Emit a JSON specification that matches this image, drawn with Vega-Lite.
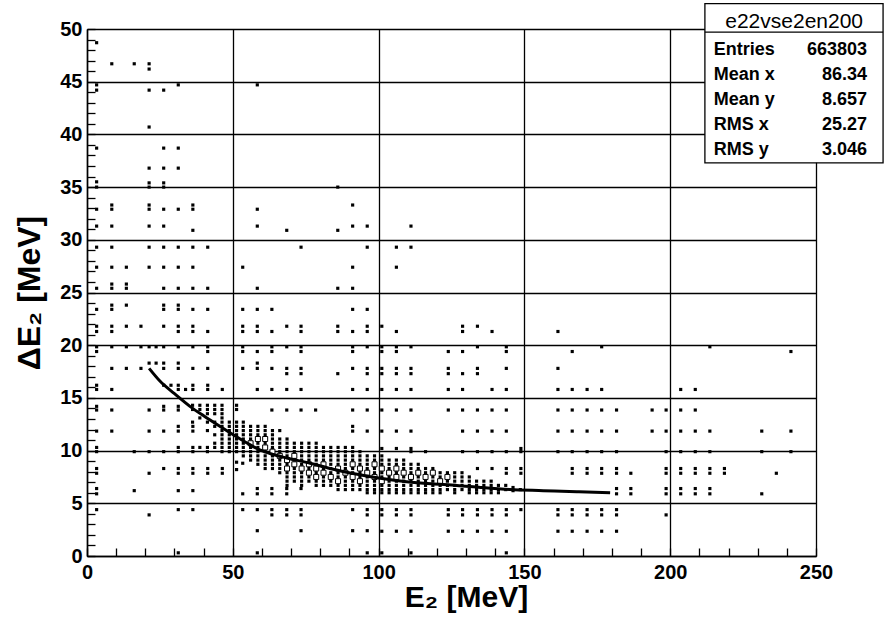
{
"$schema": "https://vega.github.io/schema/vega-lite/v6.json",
"width": 729, "height": 527,
"autosize": {"type": "none"},
"padding": {"left": 87, "top": 29, "right": 68, "bottom": 61},
"background": "white",
"config": {"view": {"stroke": null}, "font": "Liberation Sans"},
"datasets": {
"pts": [
{"x":3.3,"y":48.7},{"x":3.3,"y":44.7},{"x":3.3,"y":44.2},{"x":3.3,"y":38.7},{"x":3.3,"y":35.5},{"x":3.3,"y":35.0},{"x":3.3,"y":32.9},{"x":3.3,"y":31.3},{"x":3.3,"y":29.3},{"x":3.3,"y":27.4},{"x":3.3,"y":25.4},{"x":3.3,"y":23.4},{"x":3.3,"y":21.8},{"x":3.3,"y":21.3},{"x":3.3,"y":19.85},{"x":3.3,"y":19.4},{"x":3.3,"y":16.2},{"x":3.3,"y":15.8},{"x":3.3,"y":14.2},{"x":3.3,"y":13.85},{"x":3.3,"y":11.85},{"x":3.3,"y":10.3},{"x":3.3,"y":9.9},{"x":3.3,"y":8.3},{"x":3.3,"y":7.85},{"x":3.3,"y":6.4},{"x":3.3,"y":5.9},{"x":3.3,"y":4.4},
{"x":8.5,"y":46.7},{"x":8.5,"y":33.3},{"x":8.5,"y":32.9},{"x":8.5,"y":31.3},{"x":8.5,"y":29.3},{"x":8.5,"y":27.4},{"x":8.5,"y":25.8},{"x":8.5,"y":25.4},{"x":8.5,"y":23.8},{"x":8.5,"y":23.4},{"x":8.5,"y":21.8},{"x":8.5,"y":21.3},{"x":8.5,"y":19.85},{"x":8.5,"y":17.8},{"x":8.5,"y":15.8},{"x":8.5,"y":13.85},{"x":8.5,"y":11.85},
{"x":13.5,"y":27.4},{"x":13.5,"y":25.8},{"x":13.5,"y":25.4},{"x":13.5,"y":23.8},{"x":13.5,"y":21.8},{"x":13.5,"y":19.85},{"x":13.5,"y":17.8},
{"x":16.2,"y":46.7},{"x":16.2,"y":9.9},{"x":16.2,"y":6.2},
{"x":18.5,"y":21.8},{"x":18.5,"y":19.85},{"x":18.5,"y":17.8},
{"x":21.3,"y":46.7},{"x":21.3,"y":46.2},{"x":21.3,"y":44.2},{"x":21.3,"y":40.7},{"x":21.3,"y":36.8},{"x":21.3,"y":35.4},{"x":21.3,"y":35.0},{"x":21.3,"y":33.3},{"x":21.3,"y":32.9},{"x":21.3,"y":31.3},{"x":21.3,"y":29.3},{"x":21.3,"y":27.4},{"x":21.3,"y":19.85},{"x":21.3,"y":18.3},{"x":21.3,"y":13.85},{"x":21.3,"y":11.85},{"x":21.3,"y":9.9},{"x":21.3,"y":7.85},{"x":21.3,"y":3.9},
{"x":23.7,"y":19.85},{"x":23.7,"y":18.3},
{"x":26.3,"y":44.2},{"x":26.3,"y":38.7},{"x":26.3,"y":36.8},{"x":26.3,"y":35.4},{"x":26.3,"y":35.0},{"x":26.3,"y":32.9},{"x":26.3,"y":31.3},{"x":26.3,"y":29.3},{"x":26.3,"y":27.4},{"x":26.3,"y":25.4},{"x":26.3,"y":23.8},{"x":26.3,"y":23.4},{"x":26.3,"y":21.8},{"x":26.3,"y":19.85},{"x":26.3,"y":18.3},{"x":26.3,"y":17.8},{"x":26.3,"y":16.2},{"x":26.3,"y":14.2},{"x":26.3,"y":13.85},{"x":26.3,"y":11.85},{"x":26.3,"y":9.9},{"x":26.3,"y":8.3},
{"x":28.8,"y":16.2},
{"x":31.3,"y":44.7},{"x":31.3,"y":38.7},{"x":31.3,"y":36.8},{"x":31.3,"y":32.9},{"x":31.3,"y":29.3},{"x":31.3,"y":27.4},{"x":31.3,"y":25.4},{"x":31.3,"y":23.8},{"x":31.3,"y":23.4},{"x":31.3,"y":21.8},{"x":31.3,"y":21.3},{"x":31.3,"y":19.85},{"x":31.3,"y":18.3},{"x":31.3,"y":17.8},{"x":31.3,"y":16.2},{"x":31.3,"y":15.8},{"x":31.3,"y":14.2},{"x":31.3,"y":13.85},{"x":31.3,"y":12.3},{"x":31.3,"y":11.85},{"x":31.3,"y":10.3},{"x":31.3,"y":9.9},{"x":31.3,"y":8.3},{"x":31.3,"y":7.85},{"x":31.3,"y":6.2},{"x":31.3,"y":4.4},{"x":31.3,"y":0.3},
{"x":33.8,"y":15.8},
{"x":36.3,"y":33.3},{"x":36.3,"y":32.9},{"x":36.3,"y":30.9},{"x":36.3,"y":29.3},{"x":36.3,"y":27.4},{"x":36.3,"y":25.4},{"x":36.3,"y":23.4},{"x":36.3,"y":21.8},{"x":36.3,"y":21.3},{"x":36.3,"y":19.85},{"x":36.3,"y":17.8},{"x":36.3,"y":16.2},{"x":36.3,"y":15.8},{"x":36.3,"y":12.3},{"x":36.3,"y":11.85},{"x":36.3,"y":10.3},{"x":36.3,"y":9.9},{"x":36.3,"y":8.3},{"x":36.3,"y":7.85},{"x":36.3,"y":6.2},{"x":36.3,"y":4.4},
{"x":41.4,"y":29.3},{"x":41.4,"y":25.4},{"x":41.4,"y":23.4},{"x":41.4,"y":21.3},{"x":41.4,"y":19.85},{"x":41.4,"y":19.4},{"x":41.4,"y":17.8},{"x":41.4,"y":16.2},{"x":41.4,"y":15.8},{"x":41.4,"y":8.3},{"x":41.4,"y":7.85},
{"x":46.4,"y":15.8},{"x":46.4,"y":8.3},{"x":46.4,"y":7.85},
{"x":53.4,"y":27.4},{"x":53.4,"y":23.4},{"x":53.4,"y":21.8},{"x":53.4,"y":21.3},{"x":53.4,"y":19.85},{"x":53.4,"y":19.4},{"x":53.4,"y":17.8},{"x":53.4,"y":8.8},{"x":53.4,"y":5.9},{"x":53.4,"y":4.4},
{"x":58.4,"y":44.7},{"x":58.4,"y":32.9},{"x":58.4,"y":31.3},{"x":58.4,"y":25.4},{"x":58.4,"y":23.4},{"x":58.4,"y":21.8},{"x":58.4,"y":21.3},{"x":58.4,"y":19.4},{"x":58.4,"y":18.3},{"x":58.4,"y":17.8},{"x":58.4,"y":15.8},{"x":58.4,"y":6.4},{"x":58.4,"y":5.9},{"x":58.4,"y":4.4},{"x":58.4,"y":2.4},{"x":58.4,"y":0.3},
{"x":63.4,"y":23.4},{"x":63.4,"y":21.3},{"x":63.4,"y":19.85},{"x":63.4,"y":19.4},{"x":63.4,"y":17.8},{"x":63.4,"y":15.8},{"x":63.4,"y":13.85},{"x":63.4,"y":6.4},{"x":63.4,"y":5.9},{"x":63.4,"y":4.4},{"x":63.4,"y":3.9},
{"x":68.5,"y":30.9},{"x":68.5,"y":21.8},{"x":68.5,"y":19.85},{"x":68.5,"y":17.8},{"x":68.5,"y":17.3},{"x":68.5,"y":15.8},{"x":68.5,"y":13.85},{"x":68.5,"y":6.4},{"x":68.5,"y":5.9},{"x":68.5,"y":4.4},{"x":68.5,"y":3.9},
{"x":73.4,"y":29.3},{"x":73.4,"y":21.8},{"x":73.4,"y":21.3},{"x":73.4,"y":19.85},{"x":73.4,"y":19.4},{"x":73.4,"y":17.8},{"x":73.4,"y":17.3},{"x":73.4,"y":15.8},{"x":73.4,"y":13.85},{"x":73.4,"y":6.4},{"x":73.4,"y":4.4},{"x":73.4,"y":3.9},{"x":73.4,"y":2.4},
{"x":78.4,"y":13.85},
{"x":86.0,"y":35.0},{"x":86.0,"y":30.9},{"x":86.0,"y":25.4},{"x":86.0,"y":21.8},{"x":86.0,"y":21.3},{"x":86.0,"y":17.3},
{"x":91.1,"y":33.3},{"x":91.1,"y":31.3},{"x":91.1,"y":27.4},{"x":91.1,"y":25.4},{"x":91.1,"y":23.4},{"x":91.1,"y":21.3},{"x":91.1,"y":19.85},{"x":91.1,"y":19.4},{"x":91.1,"y":17.8},{"x":91.1,"y":15.8},{"x":91.1,"y":13.85},{"x":91.1,"y":12.3},{"x":91.1,"y":11.85},{"x":91.1,"y":4.4},{"x":91.1,"y":2.4},
{"x":96.1,"y":31.3},{"x":96.1,"y":29.3},{"x":96.1,"y":23.4},{"x":96.1,"y":21.8},{"x":96.1,"y":21.3},{"x":96.1,"y":19.85},{"x":96.1,"y":17.8},{"x":96.1,"y":17.3},{"x":96.1,"y":15.8},{"x":96.1,"y":13.85},{"x":96.1,"y":11.85},{"x":96.1,"y":4.4},{"x":96.1,"y":3.9},{"x":96.1,"y":2.4},{"x":96.1,"y":0.3},
{"x":101.1,"y":21.8},{"x":101.1,"y":19.85},{"x":101.1,"y":19.4},{"x":101.1,"y":17.8},{"x":101.1,"y":17.3},{"x":101.1,"y":15.8},{"x":101.1,"y":13.85},{"x":101.1,"y":11.85},{"x":101.1,"y":10.2},{"x":101.1,"y":4.4},{"x":101.1,"y":3.9},{"x":101.1,"y":2.35},{"x":101.1,"y":0.3},
{"x":106.1,"y":29.3},{"x":106.1,"y":27.4},{"x":106.1,"y":21.3},{"x":106.1,"y":19.85},{"x":106.1,"y":19.4},{"x":106.1,"y":17.8},{"x":106.1,"y":17.3},{"x":106.1,"y":15.8},{"x":106.1,"y":13.85},{"x":106.1,"y":11.85},{"x":106.1,"y":10.2},{"x":106.1,"y":4.4},{"x":106.1,"y":3.9},{"x":106.1,"y":2.35},
{"x":111.1,"y":31.3},{"x":111.1,"y":29.3},{"x":111.1,"y":19.85},{"x":111.1,"y":17.8},{"x":111.1,"y":17.3},{"x":111.1,"y":15.8},{"x":111.1,"y":13.85},{"x":111.1,"y":11.85},{"x":111.1,"y":10.2},{"x":111.1,"y":9.9},{"x":111.1,"y":4.4},{"x":111.1,"y":3.9},{"x":111.1,"y":2.35},{"x":111.1,"y":0.3},
{"x":116.1,"y":9.9},
{"x":123.9,"y":19.4},{"x":123.9,"y":17.8},{"x":123.9,"y":17.3},{"x":123.9,"y":15.8},{"x":123.9,"y":13.85},{"x":123.9,"y":4.4},{"x":123.9,"y":3.9},{"x":123.9,"y":2.35},
{"x":128.8,"y":21.8},{"x":128.8,"y":21.3},{"x":128.8,"y":19.4},{"x":128.8,"y":17.3},{"x":128.8,"y":15.8},{"x":128.8,"y":13.85},{"x":128.8,"y":11.85},{"x":128.8,"y":9.9},{"x":128.8,"y":4.4},{"x":128.8,"y":3.9},{"x":128.8,"y":2.35},
{"x":133.9,"y":21.8},{"x":133.9,"y":19.85},{"x":133.9,"y":17.8},{"x":133.9,"y":17.3},{"x":133.9,"y":13.85},{"x":133.9,"y":11.85},{"x":133.9,"y":9.9},{"x":133.9,"y":8.3},{"x":133.9,"y":4.4},{"x":133.9,"y":3.9},{"x":133.9,"y":2.35},
{"x":138.9,"y":21.3},{"x":138.9,"y":15.8},{"x":138.9,"y":13.85},{"x":138.9,"y":11.85},{"x":138.9,"y":9.9},{"x":138.9,"y":8.3},{"x":138.9,"y":4.4},{"x":138.9,"y":3.9},{"x":138.9,"y":2.35},
{"x":143.8,"y":19.85},{"x":143.8,"y":19.4},{"x":143.8,"y":17.8},{"x":143.8,"y":15.8},{"x":143.8,"y":13.85},{"x":143.8,"y":11.85},{"x":143.8,"y":9.9},{"x":143.8,"y":8.3},{"x":143.8,"y":7.85},{"x":143.8,"y":4.4},{"x":143.8,"y":3.9},{"x":143.8,"y":2.35},{"x":143.8,"y":0.3},
{"x":148.8,"y":10.2},{"x":148.8,"y":9.9},{"x":148.8,"y":8.3},{"x":148.8,"y":7.85},{"x":148.8,"y":4.4},
{"x":161.5,"y":21.3},{"x":161.5,"y":17.8},{"x":161.5,"y":15.8},{"x":161.5,"y":13.85},{"x":161.5,"y":11.85},{"x":161.5,"y":9.9},{"x":161.5,"y":4.4},{"x":161.5,"y":3.9},{"x":161.5,"y":2.35},
{"x":166.4,"y":19.4},{"x":166.4,"y":15.8},{"x":166.4,"y":13.85},{"x":166.4,"y":11.85},{"x":166.4,"y":9.9},{"x":166.4,"y":8.3},{"x":166.4,"y":7.85},{"x":166.4,"y":4.4},{"x":166.4,"y":3.9},{"x":166.4,"y":2.35},
{"x":171.5,"y":15.8},{"x":171.5,"y":13.85},{"x":171.5,"y":11.85},{"x":171.5,"y":9.9},{"x":171.5,"y":8.3},{"x":171.5,"y":7.85},{"x":171.5,"y":4.4},{"x":171.5,"y":3.9},{"x":171.5,"y":2.35},
{"x":176.5,"y":19.85},{"x":176.5,"y":15.8},{"x":176.5,"y":13.85},{"x":176.5,"y":11.85},{"x":176.5,"y":9.9},{"x":176.5,"y":8.3},{"x":176.5,"y":7.85},{"x":176.5,"y":4.4},{"x":176.5,"y":3.9},{"x":176.5,"y":2.35},
{"x":181.6,"y":13.85},{"x":181.6,"y":11.85},{"x":181.6,"y":9.9},{"x":181.6,"y":8.3},{"x":181.6,"y":7.85},{"x":181.6,"y":6.4},{"x":181.6,"y":5.9},{"x":181.6,"y":4.4},{"x":181.6,"y":3.9},{"x":181.6,"y":2.35},
{"x":186.5,"y":7.85},{"x":186.5,"y":6.4},{"x":186.5,"y":5.9},
{"x":193.8,"y":13.85},{"x":193.8,"y":11.85},
{"x":198.6,"y":13.85},{"x":198.6,"y":11.85},{"x":198.6,"y":9.9},{"x":198.6,"y":8.3},{"x":198.6,"y":7.85},{"x":198.6,"y":6.4},{"x":198.6,"y":5.9},{"x":198.6,"y":3.9},
{"x":203.6,"y":15.8},{"x":203.6,"y":13.85},{"x":203.6,"y":11.85},{"x":203.6,"y":9.9},{"x":203.6,"y":8.3},{"x":203.6,"y":7.85},{"x":203.6,"y":6.4},{"x":203.6,"y":5.9},
{"x":208.6,"y":15.8},{"x":208.6,"y":13.85},{"x":208.6,"y":11.85},{"x":208.6,"y":9.9},{"x":208.6,"y":8.3},{"x":208.6,"y":7.85},{"x":208.6,"y":6.4},{"x":208.6,"y":5.9},
{"x":213.6,"y":19.85},{"x":213.6,"y":11.85},{"x":213.6,"y":9.9},{"x":213.6,"y":8.3},{"x":213.6,"y":7.85},{"x":213.6,"y":6.4},{"x":213.6,"y":5.9},
{"x":218.6,"y":8.3},{"x":218.6,"y":7.85},
{"x":231.4,"y":11.85},{"x":231.4,"y":9.9},{"x":231.4,"y":5.9},
{"x":236.4,"y":7.85},
{"x":241.4,"y":19.4},{"x":241.4,"y":11.85},{"x":241.4,"y":9.9},
{"x":36.2,"y":14.3},{"x":36.2,"y":13.9},{"x":36.2,"y":12.7},
{"x":38.7,"y":14.3},{"x":38.7,"y":13.9},{"x":38.7,"y":13.1},{"x":38.7,"y":10.3},
{"x":41.3,"y":14.3},{"x":41.3,"y":13.9},{"x":41.3,"y":13.5},{"x":41.3,"y":12.7},{"x":41.3,"y":11.9},{"x":41.3,"y":10.3},{"x":41.3,"y":9.9},
{"x":43.8,"y":14.3},{"x":43.8,"y":13.9},{"x":43.8,"y":13.5},{"x":43.8,"y":12.7},{"x":43.8,"y":12.3},{"x":43.8,"y":11.5},{"x":43.8,"y":10.7},{"x":43.8,"y":10.3},
{"x":46.3,"y":14.3},{"x":46.3,"y":13.9},{"x":46.3,"y":13.5},{"x":46.3,"y":13.1},{"x":46.3,"y":12.7},{"x":46.3,"y":12.3},{"x":46.3,"y":11.9},{"x":46.3,"y":11.5},{"x":46.3,"y":11.1},{"x":46.3,"y":10.7},{"x":46.3,"y":10.3},{"x":46.3,"y":9.9},
{"x":48.8,"y":12.7},{"x":48.8,"y":12.3},{"x":48.8,"y":11.9},{"x":48.8,"y":11.5},{"x":48.8,"y":11.1},{"x":48.8,"y":10.7},{"x":48.8,"y":10.3},{"x":48.8,"y":9.9},
{"x":51.3,"y":14.3},{"x":51.3,"y":13.9},{"x":51.3,"y":12.7},{"x":51.3,"y":12.3},{"x":51.3,"y":11.9},{"x":51.3,"y":11.5},{"x":51.3,"y":11.1},{"x":51.3,"y":10.7},{"x":51.3,"y":10.3},{"x":51.3,"y":9.9},{"x":51.3,"y":8.9},{"x":51.3,"y":8.2},
{"x":53.6,"y":12.7},{"x":53.6,"y":12.3},{"x":53.6,"y":11.9},{"x":53.6,"y":11.5},{"x":53.6,"y":11.1},{"x":53.6,"y":10.7},{"x":53.6,"y":10.3},{"x":53.6,"y":9.9},{"x":53.6,"y":9.5},
{"x":56.1,"y":12.3},{"x":56.1,"y":11.9},{"x":56.1,"y":11.5},{"x":56.1,"y":11.1},{"x":56.1,"y":10.7},{"x":56.1,"y":10.3},{"x":56.1,"y":9.9},{"x":56.1,"y":9.5},{"x":56.1,"y":9.1},
{"x":58.6,"y":12.3},{"x":58.6,"y":11.9},{"x":58.6,"y":11.5},{"x":58.6,"y":11.1},{"x":58.6,"y":10.7},{"x":58.6,"y":10.3},{"x":58.6,"y":9.9},{"x":58.6,"y":9.5},{"x":58.6,"y":9.1},{"x":58.6,"y":8.7},
{"x":61.1,"y":12.3},{"x":61.1,"y":11.9},{"x":61.1,"y":11.5},{"x":61.1,"y":11.1},{"x":61.1,"y":10.7},{"x":61.1,"y":10.3},{"x":61.1,"y":9.9},{"x":61.1,"y":9.5},{"x":61.1,"y":9.1},{"x":61.1,"y":8.7},{"x":61.1,"y":8.3},
{"x":63.6,"y":11.9},{"x":63.6,"y":11.5},{"x":63.6,"y":11.1},{"x":63.6,"y":10.7},{"x":63.6,"y":10.3},{"x":63.6,"y":9.9},{"x":63.6,"y":9.5},{"x":63.6,"y":9.1},{"x":63.6,"y":8.7},{"x":63.6,"y":8.3},
{"x":66.1,"y":11.9},{"x":66.1,"y":11.1},{"x":66.1,"y":10.7},{"x":66.1,"y":10.3},{"x":66.1,"y":9.9},{"x":66.1,"y":9.5},{"x":66.1,"y":9.1},{"x":66.1,"y":8.7},{"x":66.1,"y":8.3},{"x":66.1,"y":7.9},
{"x":68.6,"y":11.1},{"x":68.6,"y":10.7},{"x":68.6,"y":10.3},{"x":68.6,"y":9.9},{"x":68.6,"y":9.5},{"x":68.6,"y":9.1},{"x":68.6,"y":8.7},{"x":68.6,"y":8.3},{"x":68.6,"y":7.9},{"x":68.6,"y":7.5},{"x":68.6,"y":7.1},{"x":68.6,"y":6.7},
{"x":71.1,"y":10.7},{"x":71.1,"y":10.3},{"x":71.1,"y":9.9},{"x":71.1,"y":9.5},{"x":71.1,"y":9.1},{"x":71.1,"y":8.7},{"x":71.1,"y":8.3},{"x":71.1,"y":7.9},{"x":71.1,"y":7.5},{"x":71.1,"y":7.1},
{"x":73.6,"y":10.7},{"x":73.6,"y":10.3},{"x":73.6,"y":9.9},{"x":73.6,"y":9.5},{"x":73.6,"y":9.1},{"x":73.6,"y":8.7},{"x":73.6,"y":8.3},{"x":73.6,"y":7.9},{"x":73.6,"y":7.5},{"x":73.6,"y":7.1},{"x":73.6,"y":6.7},
{"x":76.1,"y":10.7},{"x":76.1,"y":10.3},{"x":76.1,"y":9.9},{"x":76.1,"y":9.5},{"x":76.1,"y":9.1},{"x":76.1,"y":8.7},{"x":76.1,"y":8.3},{"x":76.1,"y":7.9},{"x":76.1,"y":7.5},{"x":76.1,"y":7.1},
{"x":78.6,"y":10.7},{"x":78.6,"y":10.3},{"x":78.6,"y":9.9},{"x":78.6,"y":9.5},{"x":78.6,"y":9.1},{"x":78.6,"y":8.7},{"x":78.6,"y":8.3},{"x":78.6,"y":7.9},{"x":78.6,"y":7.5},{"x":78.6,"y":7.1},{"x":78.6,"y":6.7},
{"x":81.1,"y":10.3},{"x":81.1,"y":9.9},{"x":81.1,"y":9.5},{"x":81.1,"y":9.1},{"x":81.1,"y":8.7},{"x":81.1,"y":8.3},{"x":81.1,"y":7.9},{"x":81.1,"y":7.5},{"x":81.1,"y":7.1},{"x":81.1,"y":6.7},
{"x":83.6,"y":10.3},{"x":83.6,"y":9.9},{"x":83.6,"y":9.5},{"x":83.6,"y":9.1},{"x":83.6,"y":8.7},{"x":83.6,"y":8.3},{"x":83.6,"y":7.9},{"x":83.6,"y":7.5},{"x":83.6,"y":7.1},{"x":83.6,"y":6.7},
{"x":86.1,"y":10.3},{"x":86.1,"y":9.9},{"x":86.1,"y":9.5},{"x":86.1,"y":9.1},{"x":86.1,"y":8.7},{"x":86.1,"y":8.3},{"x":86.1,"y":7.9},{"x":86.1,"y":7.5},{"x":86.1,"y":7.1},{"x":86.1,"y":6.7},{"x":86.1,"y":6.3},
{"x":88.6,"y":10.3},{"x":88.6,"y":9.9},{"x":88.6,"y":9.5},{"x":88.6,"y":9.1},{"x":88.6,"y":8.7},{"x":88.6,"y":8.3},{"x":88.6,"y":7.9},{"x":88.6,"y":7.5},{"x":88.6,"y":7.1},{"x":88.6,"y":6.7},{"x":88.6,"y":6.3},
{"x":91.1,"y":10.3},{"x":91.1,"y":9.9},{"x":91.1,"y":9.5},{"x":91.1,"y":9.1},{"x":91.1,"y":8.7},{"x":91.1,"y":8.3},{"x":91.1,"y":7.9},{"x":91.1,"y":7.5},{"x":91.1,"y":7.1},{"x":91.1,"y":6.7},{"x":91.1,"y":6.3},
{"x":93.6,"y":9.9},{"x":93.6,"y":9.5},{"x":93.6,"y":9.1},{"x":93.6,"y":8.7},{"x":93.6,"y":8.3},{"x":93.6,"y":7.9},{"x":93.6,"y":7.5},{"x":93.6,"y":7.1},{"x":93.6,"y":6.7},{"x":93.6,"y":6.3},
{"x":96.1,"y":9.5},{"x":96.1,"y":9.1},{"x":96.1,"y":8.7},{"x":96.1,"y":8.3},{"x":96.1,"y":7.9},{"x":96.1,"y":7.5},{"x":96.1,"y":7.1},{"x":96.1,"y":6.7},{"x":96.1,"y":6.3},{"x":96.1,"y":6.0},
{"x":98.6,"y":9.5},{"x":98.6,"y":9.1},{"x":98.6,"y":8.7},{"x":98.6,"y":8.3},{"x":98.6,"y":7.9},{"x":98.6,"y":7.5},{"x":98.6,"y":7.1},{"x":98.6,"y":6.7},{"x":98.6,"y":6.3},{"x":98.6,"y":6.0},
{"x":101.1,"y":9.5},{"x":101.1,"y":9.1},{"x":101.1,"y":8.7},{"x":101.1,"y":8.3},{"x":101.1,"y":7.9},{"x":101.1,"y":7.5},{"x":101.1,"y":7.1},{"x":101.1,"y":6.7},{"x":101.1,"y":6.3},{"x":101.1,"y":6.0},
{"x":103.6,"y":9.1},{"x":103.6,"y":8.7},{"x":103.6,"y":8.3},{"x":103.6,"y":7.9},{"x":103.6,"y":7.5},{"x":103.6,"y":7.1},{"x":103.6,"y":6.7},{"x":103.6,"y":6.3},{"x":103.6,"y":6.0},
{"x":106.1,"y":9.1},{"x":106.1,"y":8.7},{"x":106.1,"y":8.3},{"x":106.1,"y":7.9},{"x":106.1,"y":7.5},{"x":106.1,"y":7.1},{"x":106.1,"y":6.7},{"x":106.1,"y":6.3},{"x":106.1,"y":6.0},
{"x":108.6,"y":9.1},{"x":108.6,"y":8.7},{"x":108.6,"y":8.3},{"x":108.6,"y":7.9},{"x":108.6,"y":7.5},{"x":108.6,"y":7.1},{"x":108.6,"y":6.7},{"x":108.6,"y":6.3},{"x":108.6,"y":6.0},
{"x":111.1,"y":8.7},{"x":111.1,"y":8.3},{"x":111.1,"y":7.9},{"x":111.1,"y":7.5},{"x":111.1,"y":7.1},{"x":111.1,"y":6.7},{"x":111.1,"y":6.3},{"x":111.1,"y":6.0},
{"x":113.6,"y":8.7},{"x":113.6,"y":8.3},{"x":113.6,"y":7.9},{"x":113.6,"y":7.5},{"x":113.6,"y":7.1},{"x":113.6,"y":6.7},{"x":113.6,"y":6.3},{"x":113.6,"y":6.0},
{"x":116.1,"y":8.3},{"x":116.1,"y":7.9},{"x":116.1,"y":7.5},{"x":116.1,"y":7.1},{"x":116.1,"y":6.7},{"x":116.1,"y":6.3},{"x":116.1,"y":6.0},
{"x":118.6,"y":8.3},{"x":118.6,"y":7.9},{"x":118.6,"y":7.5},{"x":118.6,"y":7.1},{"x":118.6,"y":6.7},{"x":118.6,"y":6.3},{"x":118.6,"y":6.0},
{"x":121.1,"y":7.9},{"x":121.1,"y":7.5},{"x":121.1,"y":7.1},{"x":121.1,"y":6.7},{"x":121.1,"y":6.3},{"x":121.1,"y":6.0},
{"x":123.6,"y":7.9},{"x":123.6,"y":7.5},{"x":123.6,"y":7.1},{"x":123.6,"y":6.7},{"x":123.6,"y":6.3},
{"x":126.1,"y":7.9},{"x":126.1,"y":7.5},{"x":126.1,"y":7.1},{"x":126.1,"y":6.7},{"x":126.1,"y":6.3},{"x":126.1,"y":6.0},
{"x":128.6,"y":7.9},{"x":128.6,"y":7.5},{"x":128.6,"y":7.1},{"x":128.6,"y":6.7},{"x":128.6,"y":6.3},
{"x":131.1,"y":7.5},{"x":131.1,"y":7.1},{"x":131.1,"y":6.7},{"x":131.1,"y":6.3},{"x":131.1,"y":6.0},
{"x":133.6,"y":7.1},{"x":133.6,"y":6.7},{"x":133.6,"y":6.3},{"x":133.6,"y":6.0},
{"x":136.1,"y":7.1},{"x":136.1,"y":6.7},{"x":136.1,"y":6.3},{"x":136.1,"y":6.0},
{"x":138.6,"y":7.1},{"x":138.6,"y":6.7},{"x":138.6,"y":6.3},{"x":138.6,"y":6.0},
{"x":141.1,"y":6.7},{"x":141.1,"y":6.3},{"x":141.1,"y":6.0},
{"x":143.6,"y":6.7},{"x":143.6,"y":6.3},
{"x":146.1,"y":6.5},{"x":146.1,"y":6.2},
{"x":148.6,"y":6.3}
],
"core": [
{"x":56.1,"y":10.7},{"x":58.6,"y":11.1},{"x":61.1,"y":10.3},{"x":61.1,"y":11.1},{"x":63.6,"y":9.9},{"x":66.1,"y":9.5},{"x":68.6,"y":9.1},{"x":68.6,"y":8.3},{"x":71.1,"y":8.7},{"x":71.1,"y":9.5},{"x":73.6,"y":8.3},{"x":76.1,"y":8.7},{"x":76.1,"y":7.9},{"x":78.6,"y":8.3},{"x":78.6,"y":7.5},{"x":81.1,"y":7.9},{"x":81.1,"y":8.7},{"x":83.6,"y":7.5},{"x":86.1,"y":8.3},{"x":86.1,"y":7.1},{"x":88.6,"y":7.9},{"x":91.1,"y":7.5},{"x":91.1,"y":8.7},{"x":93.6,"y":7.1},{"x":93.6,"y":8.3},{"x":96.1,"y":7.9},{"x":98.6,"y":7.5},{"x":98.6,"y":8.7},{"x":101.1,"y":8.3},{"x":101.1,"y":7.1},{"x":103.6,"y":7.9},{"x":106.1,"y":7.5},{"x":106.1,"y":8.3},{"x":108.6,"y":7.9},{"x":111.1,"y":7.5},{"x":113.6,"y":7.9},{"x":116.1,"y":7.5},{"x":118.6,"y":7.9},{"x":121.1,"y":7.1},{"x":123.6,"y":7.5}
],
"curve": [
{"x":21.3,"y":17.8},{"x":25,"y":16.6},{"x":30,"y":15.4},{"x":35.3,"y":14.2},{"x":40,"y":13.3},{"x":45,"y":12.4},{"x":49.6,"y":11.6},{"x":55,"y":10.7},{"x":58.2,"y":10.2},{"x":63,"y":9.7},{"x":68.5,"y":9.3},{"x":76.5,"y":8.8},{"x":83.3,"y":8.3},{"x":93.6,"y":7.7},{"x":100,"y":7.4},{"x":109.6,"y":7.05},{"x":118,"y":6.85},{"x":126.8,"y":6.7},{"x":135,"y":6.5},{"x":145,"y":6.3},{"x":156.5,"y":6.2},{"x":168,"y":6.1},{"x":179.4,"y":6.0}
]
},
"layer": [
{
"data": {"name": "pts"},
"mark": {"type": "square", "size": 10, "color": "black", "filled": true, "opacity": 1},
"encoding": {
"x": {"field": "x", "type": "quantitative",
 "scale": {"domain": [0, 250], "nice": false, "zero": false},
 "axis": {"title": "E₂ [MeV]", "values": [0,10,20,30,40,50,60,70,80,90,100,110,120,130,140,150,160,170,180,190,200,210,220,230,240,250],
  "labelExpr": "datum.value % 50 === 0 ? datum.label : ''",
  "grid": true, "gridColor": "black", "gridWidth": 1.3,
  "gridOpacity": {"condition": {"test": "datum.value % 50 === 0", "value": 1}, "value": 0},
  "tickSize": -8, "tickColor": "black", "tickWidth": 1.3,
  "domainColor": "black", "domainWidth": 1.5,
  "labelFont": "Liberation Sans", "labelFontWeight": "bold", "labelFontSize": 20, "labelColor": "black",
  "labelPadding": 14, "labelFlush": false, "labelOverlap": false,
  "titleFont": "Liberation Sans", "titleFontWeight": "bold", "titleFontSize": 30, "titleColor": "black",
  "titlePadding": 0, "titleX": 379}},
"y": {"field": "y", "type": "quantitative",
 "scale": {"domain": [0, 50], "nice": false, "zero": false},
 "axis": {"title": "ΔE₂ [MeV]", "values": [0,1,2,3,4,5,6,7,8,9,10,11,12,13,14,15,16,17,18,19,20,21,22,23,24,25,26,27,28,29,30,31,32,33,34,35,36,37,38,39,40,41,42,43,44,45,46,47,48,49,50],
  "labelExpr": "datum.value % 5 === 0 ? datum.label : ''",
  "grid": true, "gridColor": "black", "gridWidth": 1.3,
  "gridOpacity": {"condition": {"test": "datum.value % 5 === 0", "value": 1}, "value": 0},
  "tickSize": -8, "tickColor": "black", "tickWidth": 1.3,
  "domainColor": "black", "domainWidth": 1.5,
  "labelFont": "Liberation Sans", "labelFontWeight": "bold", "labelFontSize": 20, "labelColor": "black",
  "labelPadding": 13, "labelOverlap": false, "labelFlush": false,
  "titleFont": "Liberation Sans", "titleFontWeight": "bold", "titleFontSize": 32, "titleColor": "black",
  "titlePadding": 13}}
}
},
{
"data": {"name": "core"},
"mark": {"type": "square", "size": 25, "fill": "white", "stroke": "black", "strokeWidth": 1, "filled": true, "opacity": 1},
"encoding": {
"x": {"field": "x", "type": "quantitative",
 "axis": {"title": "E₂ [MeV]", "values": [0,10,20,30,40,50,60,70,80,90,100,110,120,130,140,150,160,170,180,190,200,210,220,230,240,250],
  "labelExpr": "datum.value % 50 === 0 ? datum.label : ''",
  "grid": true, "gridColor": "black", "gridWidth": 1.3,
  "gridOpacity": {"condition": {"test": "datum.value % 50 === 0", "value": 1}, "value": 0},
  "tickSize": -8, "tickColor": "black", "tickWidth": 1.3,
  "domainColor": "black", "domainWidth": 1.5,
  "labelFont": "Liberation Sans", "labelFontWeight": "bold", "labelFontSize": 20, "labelColor": "black",
  "labelPadding": 14, "labelFlush": false, "labelOverlap": false,
  "titleFont": "Liberation Sans", "titleFontWeight": "bold", "titleFontSize": 30, "titleColor": "black",
  "titlePadding": 0, "titleX": 379}},
"y": {"field": "y", "type": "quantitative",
 "axis": {"title": "ΔE₂ [MeV]", "values": [0,1,2,3,4,5,6,7,8,9,10,11,12,13,14,15,16,17,18,19,20,21,22,23,24,25,26,27,28,29,30,31,32,33,34,35,36,37,38,39,40,41,42,43,44,45,46,47,48,49,50],
  "labelExpr": "datum.value % 5 === 0 ? datum.label : ''",
  "grid": true, "gridColor": "black", "gridWidth": 1.3,
  "gridOpacity": {"condition": {"test": "datum.value % 5 === 0", "value": 1}, "value": 0},
  "tickSize": -8, "tickColor": "black", "tickWidth": 1.3,
  "domainColor": "black", "domainWidth": 1.5,
  "labelFont": "Liberation Sans", "labelFontWeight": "bold", "labelFontSize": 20, "labelColor": "black",
  "labelPadding": 13, "labelOverlap": false, "labelFlush": false,
  "titleFont": "Liberation Sans", "titleFontWeight": "bold", "titleFontSize": 32, "titleColor": "black",
  "titlePadding": 13}}
}
},
{
"data": {"name": "curve"},
"mark": {"type": "line", "color": "black", "strokeWidth": 3, "interpolate": "monotone"},
"encoding": {
"x": {"field": "x", "type": "quantitative",
 "axis": {"title": "E₂ [MeV]", "values": [0,10,20,30,40,50,60,70,80,90,100,110,120,130,140,150,160,170,180,190,200,210,220,230,240,250],
  "labelExpr": "datum.value % 50 === 0 ? datum.label : ''",
  "grid": true, "gridColor": "black", "gridWidth": 1.3,
  "gridOpacity": {"condition": {"test": "datum.value % 50 === 0", "value": 1}, "value": 0},
  "tickSize": -8, "tickColor": "black", "tickWidth": 1.3,
  "domainColor": "black", "domainWidth": 1.5,
  "labelFont": "Liberation Sans", "labelFontWeight": "bold", "labelFontSize": 20, "labelColor": "black",
  "labelPadding": 14, "labelFlush": false, "labelOverlap": false,
  "titleFont": "Liberation Sans", "titleFontWeight": "bold", "titleFontSize": 30, "titleColor": "black",
  "titlePadding": 0, "titleX": 379}},
"y": {"field": "y", "type": "quantitative",
 "axis": {"title": "ΔE₂ [MeV]", "values": [0,1,2,3,4,5,6,7,8,9,10,11,12,13,14,15,16,17,18,19,20,21,22,23,24,25,26,27,28,29,30,31,32,33,34,35,36,37,38,39,40,41,42,43,44,45,46,47,48,49,50],
  "labelExpr": "datum.value % 5 === 0 ? datum.label : ''",
  "grid": true, "gridColor": "black", "gridWidth": 1.3,
  "gridOpacity": {"condition": {"test": "datum.value % 5 === 0", "value": 1}, "value": 0},
  "tickSize": -8, "tickColor": "black", "tickWidth": 1.3,
  "domainColor": "black", "domainWidth": 1.5,
  "labelFont": "Liberation Sans", "labelFontWeight": "bold", "labelFontSize": 20, "labelColor": "black",
  "labelPadding": 13, "labelOverlap": false, "labelFlush": false,
  "titleFont": "Liberation Sans", "titleFontWeight": "bold", "titleFontSize": 32, "titleColor": "black",
  "titlePadding": 13}}
}
},
{
"data": {"values": [{}]},
"mark": {"type": "rect", "fill": "white", "stroke": "black", "strokeWidth": 1.3},
"encoding": {
"x": {"datum": 211.9, "type": "quantitative",
 "axis": {"title": "E₂ [MeV]", "values": [0,10,20,30,40,50,60,70,80,90,100,110,120,130,140,150,160,170,180,190,200,210,220,230,240,250],
  "labelExpr": "datum.value % 50 === 0 ? datum.label : ''",
  "grid": true, "gridColor": "black", "gridWidth": 1.3,
  "gridOpacity": {"condition": {"test": "datum.value % 50 === 0", "value": 1}, "value": 0},
  "tickSize": -8, "tickColor": "black", "tickWidth": 1.3,
  "domainColor": "black", "domainWidth": 1.5,
  "labelFont": "Liberation Sans", "labelFontWeight": "bold", "labelFontSize": 20, "labelColor": "black",
  "labelPadding": 14, "labelFlush": false, "labelOverlap": false,
  "titleFont": "Liberation Sans", "titleFontWeight": "bold", "titleFontSize": 30, "titleColor": "black",
  "titlePadding": 0, "titleX": 379}},
"x2": {"datum": 273},
"y": {"datum": 52.4, "type": "quantitative",
 "axis": {"title": "ΔE₂ [MeV]", "values": [0,1,2,3,4,5,6,7,8,9,10,11,12,13,14,15,16,17,18,19,20,21,22,23,24,25,26,27,28,29,30,31,32,33,34,35,36,37,38,39,40,41,42,43,44,45,46,47,48,49,50],
  "labelExpr": "datum.value % 5 === 0 ? datum.label : ''",
  "grid": true, "gridColor": "black", "gridWidth": 1.3,
  "gridOpacity": {"condition": {"test": "datum.value % 5 === 0", "value": 1}, "value": 0},
  "tickSize": -8, "tickColor": "black", "tickWidth": 1.3,
  "domainColor": "black", "domainWidth": 1.5,
  "labelFont": "Liberation Sans", "labelFontWeight": "bold", "labelFontSize": 20, "labelColor": "black",
  "labelPadding": 13, "labelOverlap": false, "labelFlush": false,
  "titleFont": "Liberation Sans", "titleFontWeight": "bold", "titleFontSize": 32, "titleColor": "black",
  "titlePadding": 13}},
"y2": {"datum": 37.3}
}
},
{
"data": {"values": [{}]},
"mark": {"type": "rule", "color": "black", "strokeWidth": 1.3},
"encoding": {
"x": {"datum": 211.9, "type": "quantitative",
 "axis": {"title": "E₂ [MeV]", "values": [0,10,20,30,40,50,60,70,80,90,100,110,120,130,140,150,160,170,180,190,200,210,220,230,240,250],
  "labelExpr": "datum.value % 50 === 0 ? datum.label : ''",
  "grid": true, "gridColor": "black", "gridWidth": 1.3,
  "gridOpacity": {"condition": {"test": "datum.value % 50 === 0", "value": 1}, "value": 0},
  "tickSize": -8, "tickColor": "black", "tickWidth": 1.3,
  "domainColor": "black", "domainWidth": 1.5,
  "labelFont": "Liberation Sans", "labelFontWeight": "bold", "labelFontSize": 20, "labelColor": "black",
  "labelPadding": 14, "labelFlush": false, "labelOverlap": false,
  "titleFont": "Liberation Sans", "titleFontWeight": "bold", "titleFontSize": 30, "titleColor": "black",
  "titlePadding": 0, "titleX": 379}},
"x2": {"datum": 273},
"y": {"datum": 49.7, "type": "quantitative",
 "axis": {"title": "ΔE₂ [MeV]", "values": [0,1,2,3,4,5,6,7,8,9,10,11,12,13,14,15,16,17,18,19,20,21,22,23,24,25,26,27,28,29,30,31,32,33,34,35,36,37,38,39,40,41,42,43,44,45,46,47,48,49,50],
  "labelExpr": "datum.value % 5 === 0 ? datum.label : ''",
  "grid": true, "gridColor": "black", "gridWidth": 1.3,
  "gridOpacity": {"condition": {"test": "datum.value % 5 === 0", "value": 1}, "value": 0},
  "tickSize": -8, "tickColor": "black", "tickWidth": 1.3,
  "domainColor": "black", "domainWidth": 1.5,
  "labelFont": "Liberation Sans", "labelFontWeight": "bold", "labelFontSize": 20, "labelColor": "black",
  "labelPadding": 13, "labelOverlap": false, "labelFlush": false,
  "titleFont": "Liberation Sans", "titleFontWeight": "bold", "titleFontSize": 32, "titleColor": "black",
  "titlePadding": 13}}
}
},
{
"data": {"values": [{}]},
"mark": {"type": "text", "font": "Liberation Sans", "fontSize": 21, "align": "center", "baseline": "alphabetic", "color": "black"},
"encoding": {
"x": {"datum": 242.5, "type": "quantitative",
 "axis": {"title": "E₂ [MeV]", "values": [0,10,20,30,40,50,60,70,80,90,100,110,120,130,140,150,160,170,180,190,200,210,220,230,240,250],
  "labelExpr": "datum.value % 50 === 0 ? datum.label : ''",
  "grid": true, "gridColor": "black", "gridWidth": 1.3,
  "gridOpacity": {"condition": {"test": "datum.value % 50 === 0", "value": 1}, "value": 0},
  "tickSize": -8, "tickColor": "black", "tickWidth": 1.3,
  "domainColor": "black", "domainWidth": 1.5,
  "labelFont": "Liberation Sans", "labelFontWeight": "bold", "labelFontSize": 20, "labelColor": "black",
  "labelPadding": 14, "labelFlush": false, "labelOverlap": false,
  "titleFont": "Liberation Sans", "titleFontWeight": "bold", "titleFontSize": 30, "titleColor": "black",
  "titlePadding": 0, "titleX": 379}},
"y": {"datum": 50.1, "type": "quantitative",
 "axis": {"title": "ΔE₂ [MeV]", "values": [0,1,2,3,4,5,6,7,8,9,10,11,12,13,14,15,16,17,18,19,20,21,22,23,24,25,26,27,28,29,30,31,32,33,34,35,36,37,38,39,40,41,42,43,44,45,46,47,48,49,50],
  "labelExpr": "datum.value % 5 === 0 ? datum.label : ''",
  "grid": true, "gridColor": "black", "gridWidth": 1.3,
  "gridOpacity": {"condition": {"test": "datum.value % 5 === 0", "value": 1}, "value": 0},
  "tickSize": -8, "tickColor": "black", "tickWidth": 1.3,
  "domainColor": "black", "domainWidth": 1.5,
  "labelFont": "Liberation Sans", "labelFontWeight": "bold", "labelFontSize": 20, "labelColor": "black",
  "labelPadding": 13, "labelOverlap": false, "labelFlush": false,
  "titleFont": "Liberation Sans", "titleFontWeight": "bold", "titleFontSize": 32, "titleColor": "black",
  "titlePadding": 13}},
"text": {"value": "e22vse2en200"}
}
},
{
"data": {"values": [{}]},
"mark": {"type": "text", "font": "Liberation Sans", "fontSize": 18, "fontWeight": "bold", "align": "left", "baseline": "alphabetic", "lineHeight": 25, "color": "black"},
"encoding": {
"x": {"datum": 214.9, "type": "quantitative",
 "axis": {"title": "E₂ [MeV]", "values": [0,10,20,30,40,50,60,70,80,90,100,110,120,130,140,150,160,170,180,190,200,210,220,230,240,250],
  "labelExpr": "datum.value % 50 === 0 ? datum.label : ''",
  "grid": true, "gridColor": "black", "gridWidth": 1.3,
  "gridOpacity": {"condition": {"test": "datum.value % 50 === 0", "value": 1}, "value": 0},
  "tickSize": -8, "tickColor": "black", "tickWidth": 1.3,
  "domainColor": "black", "domainWidth": 1.5,
  "labelFont": "Liberation Sans", "labelFontWeight": "bold", "labelFontSize": 20, "labelColor": "black",
  "labelPadding": 14, "labelFlush": false, "labelOverlap": false,
  "titleFont": "Liberation Sans", "titleFontWeight": "bold", "titleFontSize": 30, "titleColor": "black",
  "titlePadding": 0, "titleX": 379}},
"y": {"datum": 47.5, "type": "quantitative",
 "axis": {"title": "ΔE₂ [MeV]", "values": [0,1,2,3,4,5,6,7,8,9,10,11,12,13,14,15,16,17,18,19,20,21,22,23,24,25,26,27,28,29,30,31,32,33,34,35,36,37,38,39,40,41,42,43,44,45,46,47,48,49,50],
  "labelExpr": "datum.value % 5 === 0 ? datum.label : ''",
  "grid": true, "gridColor": "black", "gridWidth": 1.3,
  "gridOpacity": {"condition": {"test": "datum.value % 5 === 0", "value": 1}, "value": 0},
  "tickSize": -8, "tickColor": "black", "tickWidth": 1.3,
  "domainColor": "black", "domainWidth": 1.5,
  "labelFont": "Liberation Sans", "labelFontWeight": "bold", "labelFontSize": 20, "labelColor": "black",
  "labelPadding": 13, "labelOverlap": false, "labelFlush": false,
  "titleFont": "Liberation Sans", "titleFontWeight": "bold", "titleFontSize": 32, "titleColor": "black",
  "titlePadding": 13}},
"text": {"value": ["Entries", "Mean x", "Mean y", "RMS x", "RMS y"]}
}
},
{
"data": {"values": [{}]},
"mark": {"type": "text", "font": "Liberation Sans", "fontSize": 18, "fontWeight": "bold", "align": "right", "baseline": "alphabetic", "lineHeight": 25, "color": "black"},
"encoding": {
"x": {"datum": 267.5, "type": "quantitative",
 "axis": {"title": "E₂ [MeV]", "values": [0,10,20,30,40,50,60,70,80,90,100,110,120,130,140,150,160,170,180,190,200,210,220,230,240,250],
  "labelExpr": "datum.value % 50 === 0 ? datum.label : ''",
  "grid": true, "gridColor": "black", "gridWidth": 1.3,
  "gridOpacity": {"condition": {"test": "datum.value % 50 === 0", "value": 1}, "value": 0},
  "tickSize": -8, "tickColor": "black", "tickWidth": 1.3,
  "domainColor": "black", "domainWidth": 1.5,
  "labelFont": "Liberation Sans", "labelFontWeight": "bold", "labelFontSize": 20, "labelColor": "black",
  "labelPadding": 14, "labelFlush": false, "labelOverlap": false,
  "titleFont": "Liberation Sans", "titleFontWeight": "bold", "titleFontSize": 30, "titleColor": "black",
  "titlePadding": 0, "titleX": 379}},
"y": {"datum": 47.5, "type": "quantitative",
 "axis": {"title": "ΔE₂ [MeV]", "values": [0,1,2,3,4,5,6,7,8,9,10,11,12,13,14,15,16,17,18,19,20,21,22,23,24,25,26,27,28,29,30,31,32,33,34,35,36,37,38,39,40,41,42,43,44,45,46,47,48,49,50],
  "labelExpr": "datum.value % 5 === 0 ? datum.label : ''",
  "grid": true, "gridColor": "black", "gridWidth": 1.3,
  "gridOpacity": {"condition": {"test": "datum.value % 5 === 0", "value": 1}, "value": 0},
  "tickSize": -8, "tickColor": "black", "tickWidth": 1.3,
  "domainColor": "black", "domainWidth": 1.5,
  "labelFont": "Liberation Sans", "labelFontWeight": "bold", "labelFontSize": 20, "labelColor": "black",
  "labelPadding": 13, "labelOverlap": false, "labelFlush": false,
  "titleFont": "Liberation Sans", "titleFontWeight": "bold", "titleFontSize": 32, "titleColor": "black",
  "titlePadding": 13}},
"text": {"value": ["663803", "86.34", "8.657", "25.27", "3.046"]}
}
}
]
}
